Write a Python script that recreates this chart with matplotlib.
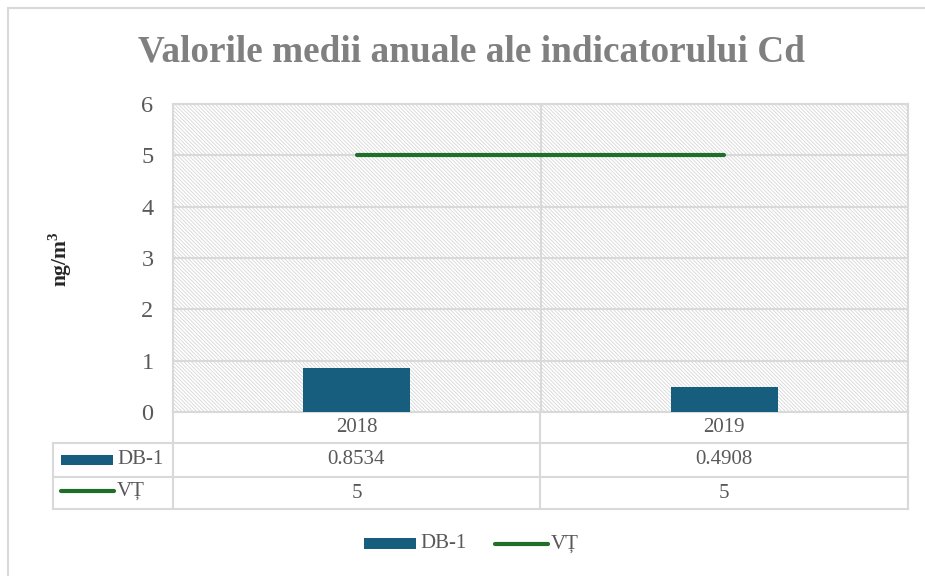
import matplotlib
matplotlib.use("Agg")
import matplotlib.pyplot as plt
from matplotlib.patches import Rectangle
from matplotlib.lines import Line2D

categories = ["2018", "2019"]
db1_values = [0.8534, 0.4908]
vt_values = [5, 5]
db1_labels = ["0.8534", "0.4908"]
vt_labels = ["5", "5"]
series_names = ["DB-1", "VȚ"]
title = "Valorile medii anuale ale indicatorului Cd"
ylabel = "ng/m$^\\mathbf{3}$"
yticks = [0, 1, 2, 3, 4, 5, 6]

W, H = 925, 576
plt.rcParams['font.family'] = ['Liberation Serif', 'DejaVu Serif']
plt.rcParams['mathtext.fontset'] = 'custom'
plt.rcParams['mathtext.bf'] = 'Liberation Serif:bold'
plt.rcParams['hatch.linewidth'] = 0.6
plt.rcParams['hatch.color'] = '#d6d6d6'

fig = plt.figure(figsize=(W / 100, H / 100), dpi=100)

def fx(x):
    return x / W

def fy(y):
    return 1 - y / H

BAR_C = '#175E7E'
LINE_C = '#1F6E2A'
GRID_C = '#d9d9d9'
TXT_C = '#595959'
FS = 15

# outer border
fig.add_artist(Rectangle((fx(8), fy(H + 20)), fx(W + 20), fy(8) - fy(H + 20),
                         transform=fig.transFigure, fill=False, edgecolor=GRID_C, lw=1.5))

L, R, T, B = 173, 908, 104, 412
ax = fig.add_axes([fx(L), fy(B), fx(R - L), fy(T) - fy(B)])
ax.set_xlim(-0.5, 1.5)
ax.set_ylim(0, 6)
ax.add_patch(Rectangle((0, 0), 1, 1, transform=ax.transAxes, facecolor='white',
                       hatch='\\' * 9, edgecolor='#d6d6d6', lw=0, zorder=0))
for s in ax.spines.values():
    s.set_color(GRID_C)
    s.set_linewidth(1.5)
ax.set_yticks(yticks)
ax.set_yticklabels([str(t) for t in yticks], fontsize=17.5, color=TXT_C)
ax.tick_params(axis='y', length=0, pad=14)
ax.set_xticks([])
ax.yaxis.grid(True, color=GRID_C, lw=1.5, zorder=1)
ax.axvline(0.5, color=GRID_C, lw=1.5, zorder=1)
ax.set_axisbelow(True)

x = list(range(len(categories)))
ax.bar(x, db1_values, width=0.29, color=BAR_C, zorder=3)
ax.plot(x, vt_values, color=LINE_C, lw=3, zorder=4, solid_capstyle='round')

fig.text(fx(60), fy(259), ylabel, rotation=90, ha='center', va='center',
         fontsize=15.5, fontweight='bold', color='#262626')

fig.text(fx(472), fy(52), title, ha='center', va='center', fontsize=26.8, fontweight='bold', color='#808080')

# data table
rows_y = [412, 443, 477, 509]
cols_x = [53, 173, 540, 908]
def hline(y, x0, x1):
    fig.add_artist(Line2D([fx(x0), fx(x1)], [fy(y), fy(y)], transform=fig.transFigure, color=GRID_C, lw=1.5))
def vline(xp, y0, y1):
    fig.add_artist(Line2D([fx(xp), fx(xp)], [fy(y0), fy(y1)], transform=fig.transFigure, color=GRID_C, lw=1.5))

hline(443, 53, 908)
hline(477, 53, 908)
hline(509, 53, 908)
vline(53, 443, 509)
vline(173, 412, 509)
vline(540, 412, 509)
vline(908, 412, 509)

centers = [(cols_x[1] + cols_x[2]) / 2, (cols_x[2] + cols_x[3]) / 2]
for i, c in enumerate(categories):
    fig.text(fx(centers[i]), fy((rows_y[0] + rows_y[1]) / 2), c, ha='center', va='center', fontsize=FS, color=TXT_C)
    fig.text(fx(centers[i]), fy((rows_y[1] + rows_y[2]) / 2), db1_labels[i], ha='center', va='center', fontsize=FS, color=TXT_C)
    fig.text(fx(centers[i]), fy((rows_y[2] + rows_y[3]) / 2), vt_labels[i], ha='center', va='center', fontsize=FS, color=TXT_C)

# table legend keys
fig.add_artist(Rectangle((fx(61), fy(465)), fx(52), fy(455) - fy(465), transform=fig.transFigure,
                         facecolor=BAR_C, edgecolor='none'))
fig.text(fx(117), fy(460), series_names[0], ha='left', va='center', fontsize=FS, color=TXT_C)
fig.add_artist(Line2D([fx(61), fx(114)], [fy(491), fy(491)], transform=fig.transFigure,
                      color=LINE_C, lw=3, solid_capstyle='round'))
fig.text(fx(117), fy(491), series_names[1], ha='left', va='center', fontsize=FS, color=TXT_C)

# bottom legend
fig.add_artist(Rectangle((fx(364), fy(549)), fx(52), fy(538) - fy(549), transform=fig.transFigure,
                         facecolor=BAR_C, edgecolor='none'))
fig.text(fx(420), fy(544), series_names[0], ha='left', va='center', fontsize=FS, color=TXT_C)
fig.add_artist(Line2D([fx(495), fx(548)], [fy(544), fy(544)], transform=fig.transFigure,
                      color=LINE_C, lw=3, solid_capstyle='round'))
fig.text(fx(551), fy(544), series_names[1], ha='left', va='center', fontsize=FS, color=TXT_C)

fig.savefig('out.png', dpi=100, facecolor='white')
